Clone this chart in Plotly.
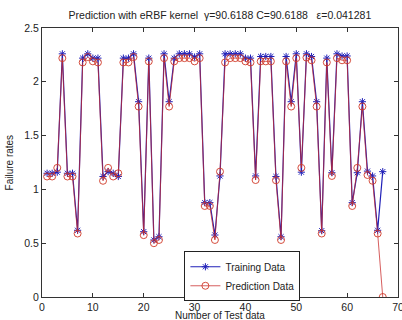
import plotly.graph_objects as go

x_idx = list(range(1, 68))
training = [1.15, 1.15, 1.16, 2.26, 1.15, 1.15, 0.62, 2.22, 2.26, 2.22,
            2.22, 1.12, 1.165, 1.15, 1.12, 2.22, 2.22, 2.26, 1.815, 0.607,
            2.22, 0.53, 0.56, 2.26, 1.815, 2.22, 2.26, 2.26, 2.26, 2.23,
            2.26, 0.877, 0.877, 0.576, 1.125, 2.26, 2.26, 2.26, 2.26, 2.22,
            2.22, 1.125, 2.235, 2.235, 2.235, 1.12, 0.56, 2.235, 1.815, 2.26,
            1.16, 2.26, 2.235, 1.815, 0.616, 2.22, 1.155, 2.26, 2.24, 2.24,
            0.877, 1.155, 1.815, 1.17, 1.125, 0.62, 1.165]
prediction = [1.12, 1.12, 1.20, 2.22, 1.12, 1.12, 0.59, 2.18, 2.23, 2.19,
              2.18, 1.08, 1.20, 1.12, 1.15, 2.18, 2.18, 2.23, 1.77, 0.575,
              2.19, 0.50, 0.53, 2.22, 1.77, 2.19, 2.22, 2.22, 2.22, 2.19,
              2.22, 0.846, 0.846, 0.53, 1.165, 2.18, 2.22, 2.22, 2.22, 2.19,
              2.18, 1.087, 2.19, 2.19, 2.19, 1.085, 0.53, 2.19, 1.77, 2.22,
              1.20, 2.225, 2.20, 1.77, 0.59, 2.18, 1.125, 2.22, 2.20, 2.20,
              0.846, 1.20, 1.77, 1.134, 1.08, 0.59, 0.0]
x_ticks = [0, 10, 20, 30, 40, 50, 60, 70]
y_ticks = [0, 0.5, 1, 1.5, 2, 2.5]
y_tick_text = ["0", "0.5", "1", "1.5", "2", "2.5"]

FONT = "Liberation Sans, Arial, sans-serif"

fig = go.Figure()
fig.add_trace(go.Scatter(
    x=x_idx, y=training, mode="lines+markers", name="Training Data",
    line=dict(color="#2020b8", width=1.2),
    marker=dict(symbol="asterisk-open", size=6, color="#2020b8",
                line=dict(color="#2020b8", width=1)),
))
fig.add_trace(go.Scatter(
    x=x_idx, y=prediction, mode="lines+markers", name="Prediction Data",
    line=dict(color="rgba(200,40,40,0.75)", width=1),
    marker=dict(symbol="circle-open", size=7, color="#d03a28",
                line=dict(color="#d03a28", width=0.9)),
))

axis_common = dict(
    showline=True, linecolor="#333333", linewidth=1, mirror="ticks",
    ticks="inside", ticklen=4, tickcolor="#333333", showgrid=False,
    zeroline=False, automargin=False,
    tickfont=dict(family=FONT, size=10.5, color="#222222"),
)

fig.update_layout(
    width=402, height=320,
    margin=dict(l=42, r=4, t=28, b=23),
    paper_bgcolor="white", plot_bgcolor="white",
    font=dict(family=FONT, size=11, color="#222222"),
    title=dict(text="Prediction with eRBF kernel  γ=90.6188 C=90.6188   ε=0.041281",
               x=0.547, xanchor="center", yref="container", y=0.953,
               yanchor="middle", automargin=False,
               font=dict(family=FONT, size=10.5, color="#222222")),
    xaxis=dict(range=[0, 70], tickvals=x_ticks, ticklabeloverflow="allow",
               **axis_common),
    yaxis=dict(range=[0, 2.5], tickvals=y_ticks, ticktext=y_tick_text,
               **axis_common),
    legend=dict(x=0.40, y=0.17, xanchor="left", yanchor="top",
                bgcolor="white", bordercolor="#222222", borderwidth=1,
                font=dict(family=FONT, size=10, color="#222222"),
                tracegroupgap=0, itemwidth=30),
    showlegend=True,
    annotations=[
        dict(text="Number of Test data", xref="paper", yref="paper",
             x=0.5, y=-0.0688, xanchor="center", yanchor="middle",
             showarrow=False, font=dict(family=FONT, size=10, color="#222222")),
        dict(text="Failure rates", xref="paper", yref="paper",
             x=-0.09, y=0.5, xanchor="center", yanchor="middle",
             textangle=-90, showarrow=False,
             font=dict(family=FONT, size=10, color="#222222")),
    ],
)

fig.write_html(
    "out.html",
    config={"displayModeBar": False},
    post_script="document.body.style.margin='0';document.body.style.overflow='hidden';",
)
